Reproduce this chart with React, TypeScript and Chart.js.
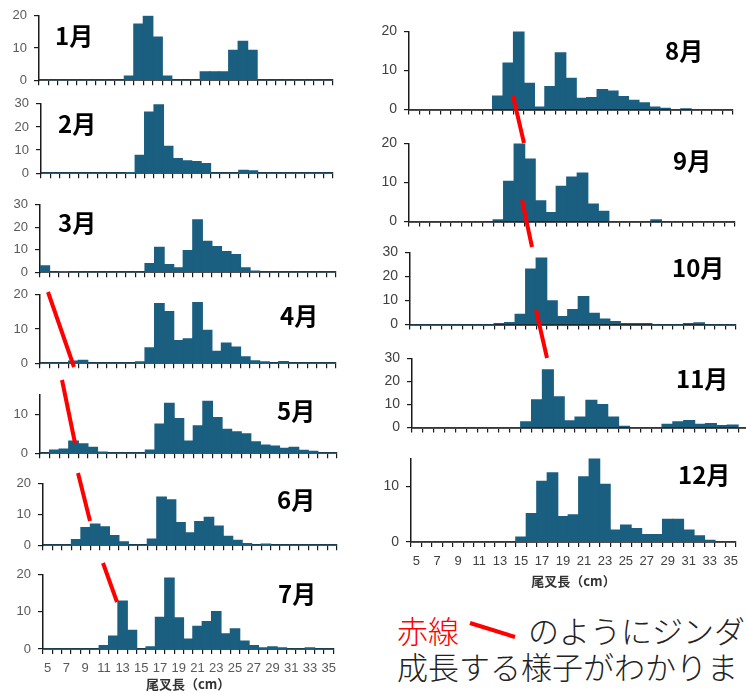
import React, { useEffect, useRef } from "react";
import { Chart, registerables } from "chart.js";

Chart.register(...registerables);

// ---------- data ----------
const BIN_LABELS = [
  "5", "6", "7", "8", "9", "10", "11", "12", "13", "14", "15", "16", "17", "18", "19", "20",
  "21", "22", "23", "24", "25", "26", "27", "28", "29", "30", "31", "32", "33", "34", "35",
];
const X_TICK_LABELS = ["5", "7", "9", "11", "13", "15", "17", "19", "21", "23", "25", "27", "29", "31", "33", "35"];
const X_TITLE = "尾叉長（cm）";
const MONTH_NAMES = ["1月", "2月", "3月", "4月", "5月", "6月", "7月", "8月", "9月", "10月", "11月", "12月"];
const Y_MAX = [20, 30, 30, 20, 15, 20, 20, 20, 20, 30, 30, 15];
const Y_STEP = 10;

const JAN = [0, 0, 0, 0, 0, 0, 0, 0, 0, 1.3, 17.4, 20, 13.4, 1.3, 0, 0, 0, 2.6, 2.6, 2.6, 9.3, 12.1, 9.3, 0, 0, 0, 0, 0, 0, 0, 0];
const FEB = [0, 0, 0, 0, 0, 0, 0, 0, 0, 0.3, 7.7, 26.4, 29.5, 11.6, 6.3, 5.3, 5.0, 4.1, 0, 0, 0, 1.2, 1.0, 0, 0, 0, 0, 0, 0, 0, 0];
const MAR = [2.8, 0, 0.3, 0, 0, 0, 0, 0, 0, 0, 0, 3.8, 11.1, 3.4, 1.9, 9.6, 23.3, 13.7, 11.4, 9.2, 7.8, 1.9, 0.5, 0, 0, 0, 0, 0, 0, 0, 0];
const APR = [0, 0, 0, 0.6, 0.85, 0, 0, 0, 0, 0, 0.4, 4.5, 17.4, 15.1, 6.6, 7.1, 17.7, 9.6, 3.5, 5.9, 4.7, 1.85, 0.7, 0.4, 0, 0.5, 0, 0, 0, 0, 0];
const MAY = [0, 0.8, 1.05, 3.1, 2.4, 1.5, 0.3, 0, 0, 0, 0, 0.8, 7.5, 12.8, 8.9, 3.1, 7.0, 13.3, 9.15, 6.1, 5.5, 5.0, 2.9, 2.1, 1.8, 1.25, 1.5, 0.7, 0.5, 0, 0];
const JUN = [0, 0, 0, 1.8, 5.7, 6.9, 6.0, 3.1, 1.1, 0, 0, 2.0, 15.7, 14.8, 7.4, 4.0, 7.7, 9.1, 6.2, 2.9, 1.55, 0.55, 0, 0.35, 0, 0, 0, 0, 0, 0, 0];
const JUL = [0, 0, 0, 0, 0, 0, 0.95, 3.45, 12.9, 5.0, 0, 0.6, 8.5, 19.1, 8.4, 2.7, 6.1, 7.4, 10.1, 4.05, 5.4, 2.15, 0.95, 0.3, 0.6, 0.3, 0, 0, 0.3, 0, 0];
const AUG = [0, 0, 0, 0, 0, 0, 0, 0, 3.45, 11.9, 20, 6.7, 0.65, 5.9, 14.5, 8.0, 2.9, 3.1, 5.1, 4.75, 3.3, 2.35, 1.7, 0.65, 0.35, 0, 0.2, 0, 0, 0, 0];
const SEP = [0, 0, 0, 0, 0, 0, 0, 0, 0.45, 10.3, 20, 16.0, 5.3, 2.3, 9.0, 11.4, 12.4, 4.5, 2.6, 0, 0, 0, 0, 0.45, 0, 0, 0, 0, 0, 0, 0];
const OCT = [0, 0, 0, 0, 0, 0, 0, 0, 0.45, 0.8, 4.25, 23.1, 27.6, 9.9, 3.3, 6.25, 11.6, 4.7, 2.3, 1.2, 0.4, 0.4, 0.4, 0, 0, 0, 0.4, 0.7, 0, 0, 0];
const NOV = [0, 0, 0, 0, 0, 0, 0, 0, 0, 0, 2.45, 12.0, 25.0, 13.3, 2.9, 4.6, 11.8, 10.0, 4.5, 0.5, 0, 0, 0, 1.45, 2.45, 3.05, 1.45, 1.7, 0.85, 1.1, 0];
const DEC = [0, 0, 0, 0, 0, 0, 0, 0, 0, 0, 0.87, 5.1, 10.9, 12.4, 4.55, 4.85, 11.7, 15.0, 10.35, 2.15, 3.05, 2.4, 1.35, 1.35, 4.05, 4.05, 2.15, 1.1, 0.3, 0, 0];

const SERIES = [JAN, FEB, MAR, APR, MAY, JUN, JUL, AUG, SEP, OCT, NOV, DEC];

const NOTE_RED = "赤線";
const NOTE_LINE1 = "のようにジンダ";
const NOTE_LINE2 = "成長する様子がわかりま";

// ---------- layout / style ----------
const BAR_COLOR = "#1a5e80";
const AXIS_COLOR = "#1a1a1a";
const CJK = "'Noto Sans CJK JP', 'Noto Sans', sans-serif";
const LATIN = "'Liberation Sans', Arial, sans-serif";

type PanelGeom = { x0: number; x1: number; yTop: number; yZero: number; right: boolean; bottom: boolean; tx: number; ty: number };

const PANELS: PanelGeom[] = [
  { x0: 39, x1: 333, yTop: 13, yZero: 89, right: false, bottom: false, tx: 55, ty: 23 },
  { x0: 41, x1: 333, yTop: 101, yZero: 182, right: false, bottom: false, tx: 58, ty: 111 },
  { x0: 40, x1: 336, yTop: 202, yZero: 281, right: false, bottom: false, tx: 58, ty: 210 },
  { x0: 40, x1: 336, yTop: 292, yZero: 372, right: false, bottom: false, tx: 280, ty: 303 },
  { x0: 40, x1: 337, yTop: 392, yZero: 462, right: false, bottom: false, tx: 277, ty: 398 },
  { x0: 43, x1: 337, yTop: 481, yZero: 554, right: false, bottom: false, tx: 277, ty: 487 },
  { x0: 43, x1: 337, yTop: 572, yZero: 649, right: false, bottom: true, tx: 278, ty: 581 },
  { x0: 409, x1: 733, yTop: 28, yZero: 119, right: true, bottom: false, tx: 665, ty: 38 },
  { x0: 409, x1: 735, yTop: 140, yZero: 231, right: true, bottom: false, tx: 673, ty: 148 },
  { x0: 410, x1: 736, yTop: 249, yZero: 334, right: true, bottom: false, tx: 672, ty: 255 },
  { x0: 412, x1: 749, yTop: 355, yZero: 437, right: true, bottom: false, tx: 676, ty: 366 },
  { x0: 411, x1: 739, yTop: 455, yZero: 542, right: true, bottom: true, tx: 678, ty: 462 },
];

const RED_LINES = [
  [48, 292, 74, 367],
  [62, 380, 75, 443],
  [78, 473, 90, 521],
  [103, 563, 117, 602],
  [513, 96, 524, 143],
  [522, 200, 532, 247],
  [536, 310, 547, 358],
  [470, 623, 515, 637],
];

function Panel({ geom, data, max }: { geom: PanelGeom; data: number[]; max: number }) {
  const ref = useRef<HTMLCanvasElement>(null);
  const yW = 40;
  const topPad = 12;
  const rightPad = 6;
  const xH = geom.bottom ? (geom.right ? 49 : 45) : 6;
  const left = geom.x0 - yW;
  const top = geom.yTop - topPad;
  const width = Math.round(geom.x1 - geom.x0 + yW + rightPad);
  const height = Math.round(geom.yZero - geom.yTop + topPad + xH);

  useEffect(() => {
    const tickColor = geom.right ? "#404040" : "#595959";
    const chart = new Chart(ref.current as HTMLCanvasElement, {
      type: "bar",
      data: {
        labels: BIN_LABELS,
        datasets: [
          {
            data,
            backgroundColor: BAR_COLOR,
            borderWidth: 0,
            inflateAmount: 0.6,
            barPercentage: 1,
            categoryPercentage: 1,
          },
        ],
      },
      options: {
        animation: false,
        responsive: false,
        maintainAspectRatio: false,
        events: [],
        layout: { padding: { top: topPad, right: rightPad, left: 0, bottom: 0 } },
        plugins: { legend: { display: false }, tooltip: { enabled: false }, title: { display: false } },
        scales: {
          x: {
            offset: true,
            grid: { offset: true, drawOnChartArea: false, drawTicks: true, tickLength: 5, color: AXIS_COLOR, lineWidth: 1.2 },
            border: { display: true, color: AXIS_COLOR, width: 1.8 },
            ticks: {
              display: geom.bottom,
              autoSkip: false,
              maxRotation: 0,
              minRotation: 0,
              padding: 7,
              color: tickColor,
              font: { family: LATIN, size: 13 },
              callback: (_v: any, i: number) => (X_TICK_LABELS.includes(BIN_LABELS[i]) ? BIN_LABELS[i] : ""),
            },
            title: {
              display: geom.bottom,
              text: X_TITLE,
              color: "#333333",
              font: { family: CJK, size: 13, weight: "bold" },
              padding: { top: 0, bottom: 2 },
            },
            afterFit: (s: any) => {
              s.height = xH;
            },
          },
          y: {
            min: 0,
            max,
            ticks: {
              stepSize: Y_STEP,
              includeBounds: false,
              padding: 7,
              color: tickColor,
              font: { family: LATIN, size: geom.right ? 14 : 13 },
            },
            grid: { drawOnChartArea: false, drawTicks: true, tickLength: 5, color: AXIS_COLOR, lineWidth: 1.2 },
            border: { display: true, color: AXIS_COLOR, width: 1.5 },
            afterFit: (s: any) => {
              s.width = yW;
            },
          },
        },
      },
    } as any);
    return () => chart.destroy();
  }, []);

  return (
    <canvas
      ref={ref}
      width={width}
      height={height}
      style={{ position: "absolute", left, top, width, height }}
    />
  );
}

export default function App() {
  return (
    <div
      style={{
        position: "absolute",
        left: 0,
        top: 0,
        width: 746,
        height: 693,
        overflow: "hidden",
        background: "#ffffff",
      }}
    >
      {PANELS.map((g, i) => (
        <Panel key={i} geom={g} data={SERIES[i]} max={Y_MAX[i]} />
      ))}
      {PANELS.map((g, i) => (
        <div
          key={"m" + i}
          style={{
            position: "absolute",
            left: g.tx,
            top: g.ty,
            fontFamily: CJK,
            fontWeight: 700,
            fontSize: 24,
            lineHeight: "24px",
            color: "#000",
            whiteSpace: "nowrap",
          }}
        >
          {MONTH_NAMES[i]}
        </div>
      ))}
      <div
        style={{
          position: "absolute",
          left: 397,
          top: 614,
          fontFamily: CJK,
          fontWeight: 300,
          fontSize: 31,
          lineHeight: "31px",
          color: "#ff0000",
          whiteSpace: "nowrap",
        }}
      >
        {NOTE_RED}
      </div>
      <div
        style={{
          position: "absolute",
          left: 528,
          top: 614,
          fontFamily: CJK,
          fontWeight: 300,
          fontSize: 31,
          lineHeight: "31px",
          color: "#222",
          whiteSpace: "nowrap",
        }}
      >
        {NOTE_LINE1}
      </div>
      <div
        style={{
          position: "absolute",
          left: 397,
          top: 650,
          fontFamily: CJK,
          fontWeight: 300,
          fontSize: 31,
          lineHeight: "31px",
          color: "#222",
          whiteSpace: "nowrap",
        }}
      >
        {NOTE_LINE2}
      </div>
      <svg
        width={746}
        height={693}
        style={{ position: "absolute", left: 0, top: 0, pointerEvents: "none" }}
      >
        {RED_LINES.map((l, i) => (
          <line key={i} x1={l[0]} y1={l[1]} x2={l[2]} y2={l[3]} stroke="#ff0000" strokeWidth={4} />
        ))}
      </svg>
    </div>
  );
}
